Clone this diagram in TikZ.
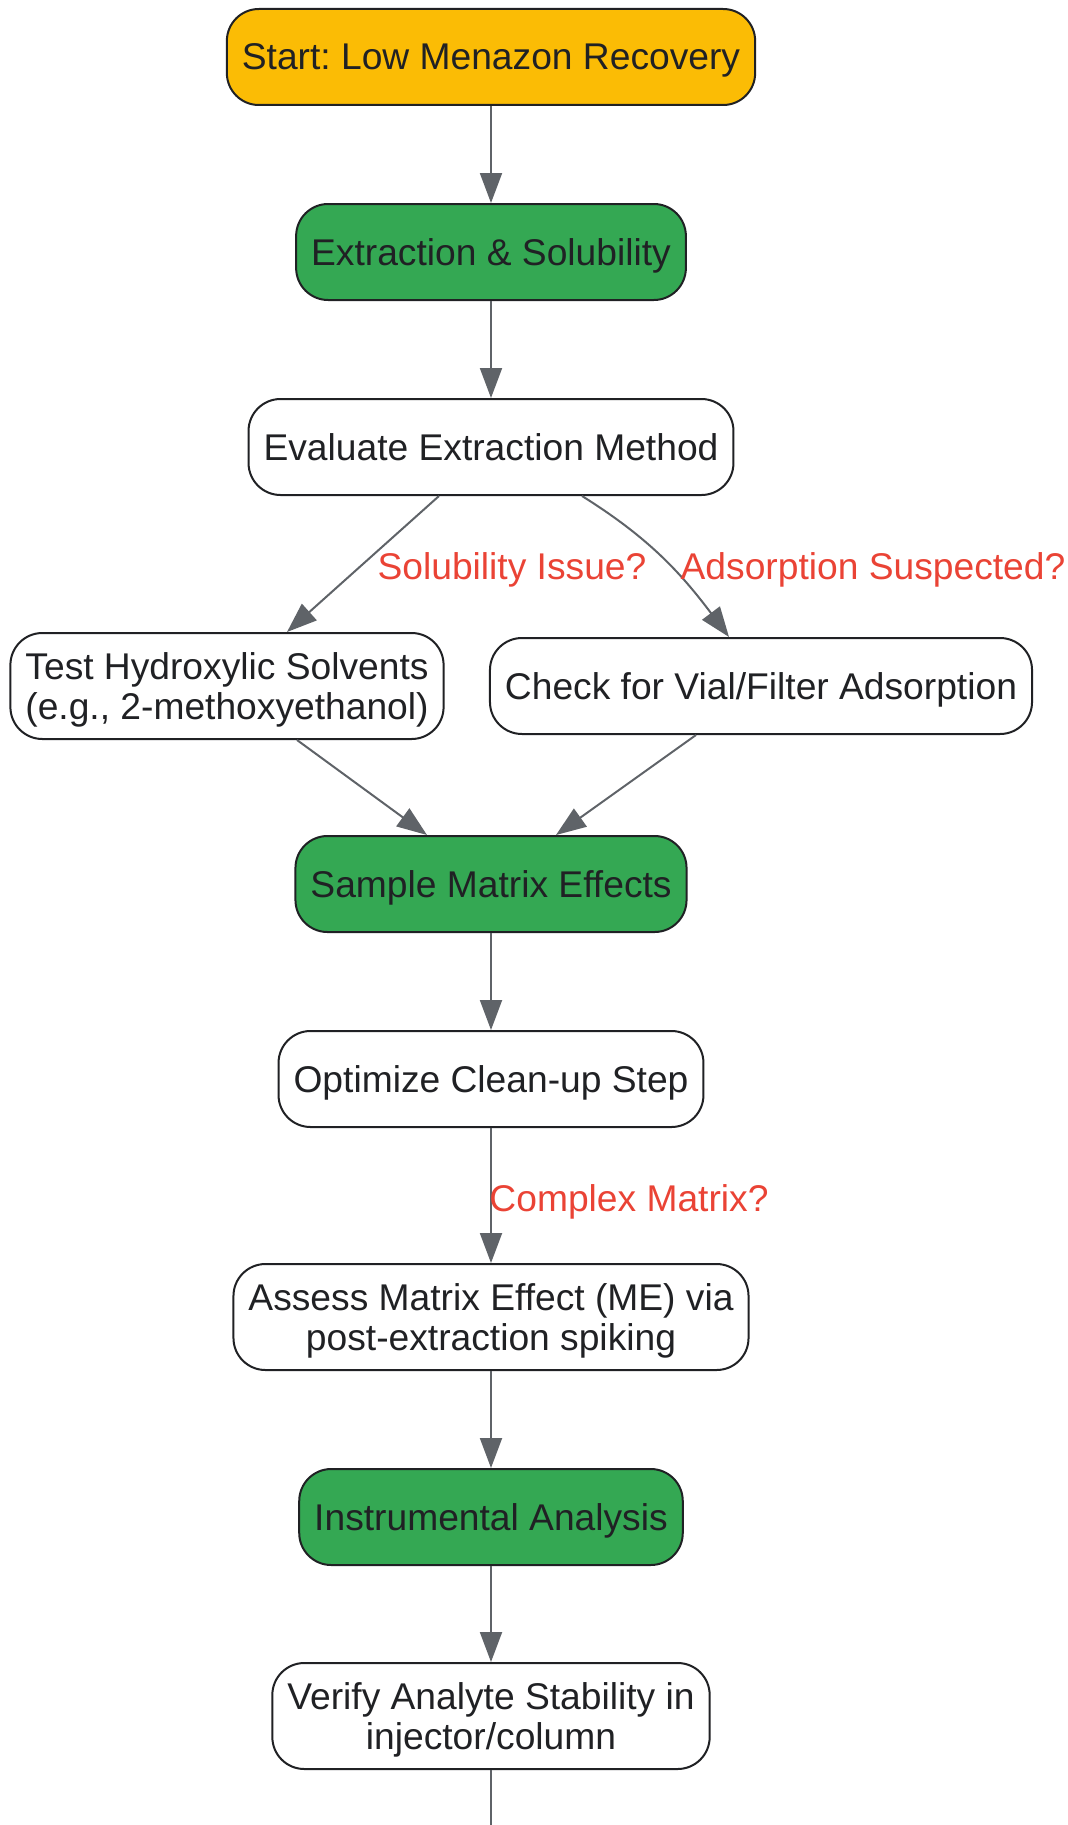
\documentclass[tikz,border=0pt]{standalone}
\usepackage{fontspec}
\setmainfont{Liberation Sans}
\usetikzlibrary{arrows.meta}
\definecolor{startyellow}{HTML}{FBBC05}
\definecolor{stagegreen}{HTML}{34A853}
\definecolor{edgegray}{HTML}{5F6368}
\definecolor{asklabel}{HTML}{EA4335}
\definecolor{inkline}{HTML}{202124}
\frenchspacing
\begin{document}
\begin{tikzpicture}[x=0.5pt,y=-0.5pt,
 box/.style={draw=inkline,line width=1pt,rounded corners=16pt,align=center,text=inkline,
   minimum height=48pt,inner xsep=7.5pt,inner ysep=5pt,text depth=0pt,
   font=\fontsize{18.6}{20.4}\selectfont},
 startbox/.style={box,fill=startyellow},
 stagebox/.style={box,fill=stagegreen},
 stepbox/.style={box,fill=white},
 twoline/.style={minimum height=53pt},
 arr/.style={draw=edgegray,line width=1pt,-{Triangle[length=15pt,width=11pt]}},
 ask/.style={text=asklabel,font=\fontsize{18.6}{20.4}\selectfont,inner sep=0pt}]
\useasboundingbox (0,0) rectangle (1068,1825);
\node[startbox] (start) at (491,57) {Start: Low Menazon Recovery};
\node[stagebox] (extract) at (491,252) {Extraction \& Solubility};
\node[stepbox] (evaluate) at (491,447) {Evaluate Extraction Method};
\node[stepbox,twoline] (solvents) at (227,686) {Test Hydroxylic Solvents\\(e.g., 2-methoxyethanol)};
\node[stepbox] (vial) at (761,686) {Check for Vial/Filter Adsorption};
\node[stagebox] (matrix) at (491,884) {Sample Matrix Effects};
\node[stepbox] (cleanup) at (491,1079) {Optimize Clean-up Step};
\node[stepbox,twoline] (assess) at (491,1317) {Assess Matrix Effect (ME) via\\post-extraction spiking};
\node[stagebox] (instr) at (491,1517) {Instrumental Analysis};
\node[stepbox,twoline] (verify) at (491,1716) {Verify Analyte Stability in\\injector/column};
\coordinate (more) at (491,1825);
% links
\draw[arr] (start) -- (extract);
\draw[arr] (extract) -- (evaluate);
\draw[arr] ([xshift=-26pt]evaluate.south) -- ([xshift=30pt]solvents.north)
  node[ask] at (512,570) {Solubility Issue?};
\draw[arr] ([xshift=45.5pt]evaluate.south) to[out=-32,in=127] ([xshift=-16pt]vial.north)
  node[ask] at (873,570) {Adsorption Suspected?};
\draw[arr] ([xshift=35pt]solvents.south) -- ([xshift=-32pt]matrix.north);
\draw[arr] ([xshift=-32.5pt]vial.south) -- ([xshift=32.5pt]matrix.north);
\draw[arr] (matrix) -- (cleanup);
\draw[arr] (cleanup) -- (assess) node[ask] at (629,1202) {Complex Matrix?};
\draw[arr] (assess) -- (instr);
\draw[arr] (instr) -- (verify);
\draw[draw=edgegray,line width=1pt] (verify) -- (more);
\end{tikzpicture}
\end{document}
